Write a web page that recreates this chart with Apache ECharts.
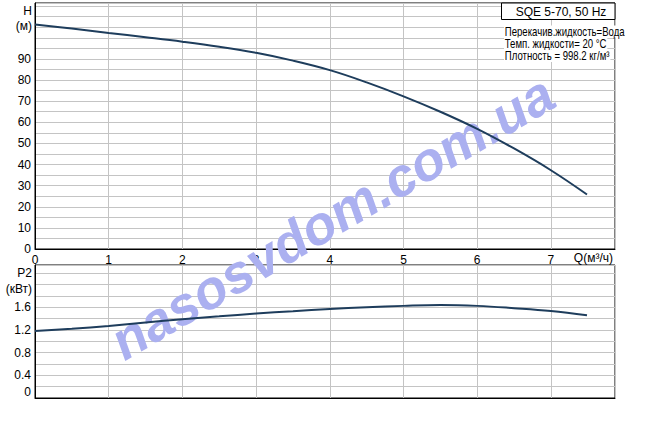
<!DOCTYPE html>
<html><head><meta charset="utf-8">
<script src="https://cdn.jsdelivr.net/npm/echarts@6/dist/echarts.min.js"></script>
<style>html,body{margin:0;padding:0;background:#fff}#c{width:667px;height:431px}</style>
</head><body><div id="c"></div>
<script>
// ---- data ----
const flowQ = [0, 0.5, 1, 1.5, 2, 2.5, 3, 3.5, 4, 4.5, 5, 5.5, 6, 6.5, 7, 7.49];
const headH = [106.3, 104.4, 102.3, 100.3, 98.2, 95.8, 92.9, 89.2, 84.7, 78.9, 72.3, 65.0, 56.9, 47.6, 37.3, 25.8];
const powerP2 = [1.18, 1.22, 1.27, 1.33, 1.39, 1.44, 1.49, 1.53, 1.57, 1.60, 1.625, 1.64, 1.625, 1.585, 1.535, 1.46];
const qTickLabels = [0, 1, 2, 3, 4, 5, 6, 7];
const hTickLabels = [0, 10, 20, 30, 40, 50, 60, 70, 80, 90];
const pTickLabels = [0, 0.4, 0.8, 1.2, 1.6];
const titleText = 'SQE 5-70, 50 Hz';
const infoLines = ['Перекачив.жидкость=Вода', 'Темп. жидкости= 20 °C', 'Плотность = 998.2 кг/м³'];
const watermark = 'nasosvdom.com.ua';

const FONT = 'Liberation Sans, Arial, sans-serif';
const WM_FONT = '"Liberation Sans", Arial, sans-serif';
const gridColor = '#c4c4c4';
const lineColor = '#1e3d5c';

const headData = flowQ.map((q, i) => [q, headH[i]]);
const powerData = flowQ.map((q, i) => [q, powerP2[i]]);

const chart = echarts.init(document.getElementById('c'), null, {renderer: 'svg'});

const xBase = {
  type: 'value', min: 0, max: 7.87, interval: 1,
  axisLine: {show: true, lineStyle: {color: '#000', width: 1}},
  axisTick: {show: false},
  splitLine: {show: true, lineStyle: {color: gridColor, width: 1}}
};

function txt(x, y, t, align, extra) {
  return Object.assign({type: 'text', x: x, y: y, z: 10,
    style: {text: t, fontFamily: FONT, fontSize: 12, fill: '#000', textAlign: align, textVerticalAlign: 'middle'}}, extra || {});
}

chart.setOption({
  animation: false,
  backgroundColor: '#fff',
  grid: [
    {left: 35, top: 3, width: 580, height: 246, show: true, borderColor: '#000', borderWidth: 1, backgroundColor: '#fff'},
    {left: 35, top: 265, width: 580, height: 133, show: true, borderColor: '#000', borderWidth: 1, backgroundColor: '#fff'}
  ],
  xAxis: [
    Object.assign({}, xBase, {gridIndex: 0,
      axisLabel: {show: true, margin: 5, color: '#000', fontFamily: FONT, fontSize: 12,
        showMaxLabel: false,
        formatter: v => qTickLabels.indexOf(Math.round(v * 100) / 100) >= 0 ? String(Math.round(v)) : ''}}),
    Object.assign({}, xBase, {gridIndex: 1, axisLabel: {show: false}})
  ],
  yAxis: [
    {gridIndex: 0, type: 'value', min: 0, max: 116.5, interval: 5,
      axisLine: {show: true, lineStyle: {color: '#000'}}, axisTick: {show: false},
      splitLine: {show: true, lineStyle: {color: gridColor, width: 1}},
      axisLabel: {margin: 4, color: '#000', fontFamily: FONT, fontSize: 12, showMaxLabel: false,
        formatter: v => hTickLabels.indexOf(Math.round(v)) >= 0 && Math.abs(v - Math.round(v)) < 1e-6 ? String(Math.round(v)) : ''}},
    {gridIndex: 1, type: 'value', min: 0, max: 2.346, interval: 0.2,
      axisLine: {show: true, lineStyle: {color: '#000'}}, axisTick: {show: false},
      splitLine: {show: true, lineStyle: {color: gridColor, width: 1}},
      axisLabel: {margin: 4, color: '#000', fontFamily: FONT, fontSize: 12, showMaxLabel: false,
        verticalAlignMinLabel: 'bottom',
        formatter: v => {
          const r = Math.round(v * 10) / 10;
          return (pTickLabels.indexOf(r) >= 0 && Math.abs(v - r) < 1e-6) ? String(r) : '';
        }}}
  ],
  series: [
    {type: 'line', xAxisIndex: 0, yAxisIndex: 0, data: headData, smooth: 0.4, showSymbol: false,
      lineStyle: {color: lineColor, width: 2}, z: 5},
    {type: 'line', xAxisIndex: 1, yAxisIndex: 1, data: powerData, smooth: 0.4, showSymbol: false,
      lineStyle: {color: lineColor, width: 2}, z: 5}
  ],
  graphic: [
    // watermark
    {type: 'text', x: 332, y: 217, rotation: 30.5 * Math.PI / 180, z: 3,
      style: {text: watermark, font: 'italic bold 54px ' + WM_FONT,
        fill: '#abb0f0', textAlign: 'center', textVerticalAlign: 'middle'}},
    // axis titles
    txt(32, 11, 'H', 'right'),
    txt(32, 26, '(м)', 'right'),
    txt(32, 273, 'P2', 'right'),
    txt(32, 289, '(кВт)', 'right'),
    txt(613, 258, 'Q(м³/ч)', 'right'),
    // title box
    {type: 'rect', z: 10, shape: {x: 501.5, y: 3, width: 113.5, height: 16.5}, style: {fill: '#fff', stroke: '#000', lineWidth: 1}},
    txt(561, 12, titleText, 'center', {z: 11}),
    // info lines
    ...infoLines.map((t, i) => ({type: 'text', x: 504, y: [31.5, 43.5, 56][i], z: 10, scaleX: 0.8,
      style: {text: t, fontFamily: FONT, fontSize: 12, fill: '#000', textAlign: 'left', textVerticalAlign: 'middle',
        backgroundColor: '#fff', padding: [0, 1, 0, 1]}}))
  ]
});
</script></body></html>
